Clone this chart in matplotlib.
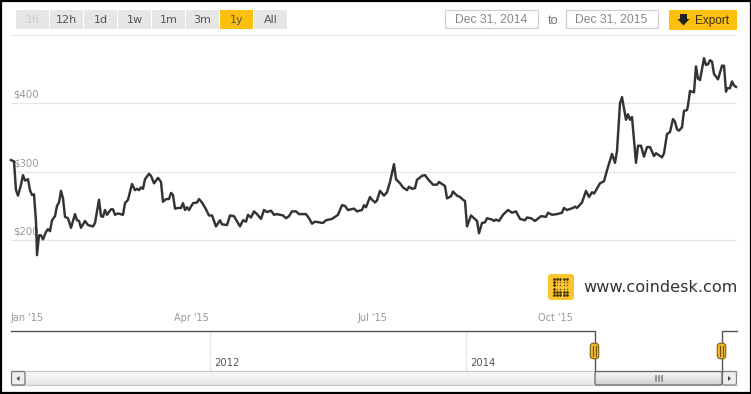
# plot.py - coindesk bitcoin price chart, 2015
import numpy as np
import matplotlib
matplotlib.use('Agg')
import matplotlib.pyplot as plt
from matplotlib.patches import Rectangle, FancyBboxPatch

# days since Dec 31 2014 and price in USD
days = [0, 1.5, 2.5, 3.5, 5, 6, 7, 8.5, 9.5, 10.5, 11.5, 12.5, 13, 14, 15, 16, 17.5, 18.5, 19.5, 20.5,
        22, 23, 24, 25, 26, 27, 28.5, 30, 32, 33, 34, 35, 37, 38.5, 41, 42, 44, 45, 46, 47,
        48, 50, 51, 52, 53.5, 56, 57, 58.5, 60.5, 62, 63, 64, 65, 66, 67, 69, 70, 71.5, 73.5, 75,
        76, 77.5, 79, 80, 81, 82, 83.5, 85, 86, 87, 88, 89, 91, 93, 94, 95.5, 97.5, 99, 100.5, 102.5,
        104.5, 105.5, 108, 109.5, 111.5, 114.5, 116, 117.5, 118.5, 120, 121.5, 123, 125, 126.5, 128, 130, 131.5, 133, 136, 137.5,
        139, 140.5, 142.5, 144, 147.5, 149, 150.5, 152, 156, 157.5, 160.5, 163.5, 165.5, 167, 168.5, 171.5, 173, 175.5, 176.5, 177.5,
        179.5, 180.5, 182, 183, 184.5, 186.5, 188, 189.5, 191.5, 192.5, 194.5, 196, 198, 199, 200.5, 202, 203, 205.5, 207, 208.5,
        211, 213, 214, 217, 218, 220, 221, 223, 224.5, 226, 227, 228, 230, 233, 234, 235.5, 237, 238, 240.5, 241.5,
        242.5, 244, 246, 248.5, 250.5, 252.5, 254.5, 257, 258, 260, 262, 265, 267.5, 268.5, 270.5, 273, 275.5, 276.5, 278, 281,
        282, 283, 285.5, 287.5, 289, 290.5, 291.5, 294.5, 296.5, 298, 300.5, 302, 303, 304.5, 305.5, 307.5, 308.5, 309.5, 310.5, 312.5,
        313.5, 315, 316.5, 318, 319.5, 321.5, 322.5, 325.5, 326.5, 328, 329.5, 331, 332, 333, 334, 335.5, 336.5, 338, 338.5, 339.5,
        341.5, 342.5, 343.5, 344.5, 346.5, 347.5, 348.5, 349.5, 350.5, 351.5, 353.5, 355.5, 356.5, 357.5, 358, 359.5, 360.5, 361.5, 362.5]
prices = [317, 315, 273, 265, 281, 295, 287, 289, 273, 266, 267, 227, 178, 207, 207, 201, 212, 216, 213, 229,
          235, 250, 255, 272, 261, 234, 232, 218, 238, 229, 228, 218, 228, 222, 220, 225, 259, 235, 234, 244,
          237, 245, 245, 237, 239, 237, 254, 259, 282, 273, 275, 273, 277, 275, 289, 297, 294, 283, 291, 285,
          256, 260, 260, 269, 266, 246, 247, 247, 254, 244, 248, 244, 254, 255, 260, 255, 245, 236, 236, 220,
          229, 223, 222, 236, 235, 220, 229, 227, 237, 233, 242, 238, 231, 244, 241, 243, 237, 238, 236, 232,
          235, 242, 242, 238, 238, 232, 224, 227, 225, 229, 231, 237, 251, 250, 244, 246, 242, 244, 251, 248,
          263, 259, 255, 258, 272, 265, 270, 285, 311, 289, 283, 277, 273, 278, 275, 276, 288, 294, 295, 289,
          281, 281, 285, 279, 261, 264, 271, 265, 263, 259, 257, 220, 236, 228, 210, 225, 226, 232, 230, 228,
          230, 228, 237, 244, 240, 242, 231, 229, 233, 232, 228, 235, 234, 240, 237, 238, 240, 247, 244, 247,
          249, 247, 255, 272, 263, 270, 268, 283, 286, 302, 326, 313, 330, 400, 409, 376, 384, 376, 380, 313,
          338, 338, 322, 336, 336, 323, 327, 321, 327, 355, 358, 377, 373, 362, 360, 365, 389, 390, 397, 418,
          416, 454, 436, 434, 466, 456, 457, 463, 461, 443, 435, 455, 455, 417, 422, 422, 432, 426, 424]

price_ticks = [200, 300, 400]
month_pos = [8, 90, 180.5, 272]
month_labels = ["Jan '15", "Apr '15", "Jul '15", "Oct '15"]
range_buttons = ['1h', '12h', '1d', '1w', '1m', '3m', '1y', 'All']
date_from = 'Dec 31, 2014'
date_to = 'Dec 31, 2015'
nav_years = [(210, '2012'), (466, '2014')]

W, H = 751, 394
GOLD = '#fcbf0c'
plt.rcParams['font.family'] = ['DejaVu Sans']

fig = plt.figure(figsize=(W / 100, H / 100), dpi=100, facecolor='white')

# page furniture in pixel coordinates
ui = fig.add_axes([0, 0, 1, 1])
ui.set_xlim(0, W); ui.set_ylim(H, 0); ui.axis('off')

for i, lab in enumerate(range_buttons):
    x0 = 16 + i * 34
    active = lab == '1y'
    ui.add_patch(Rectangle((x0, 10), 33, 19, fc=GOLD if active else '#e6e6e6', ec='none'))
    col = '#cccccc' if lab == '1h' else '#555555'
    ui.text(x0 + 16.5, 20, lab, ha='center', va='center', fontsize=8, color=col)

for x0, txt in [(445, date_from), (565.5, date_to)]:
    ui.add_patch(Rectangle((x0, 10), 92.5, 18, fc='white', ec='#d0d0d0', lw=0.9))
    ui.text(x0 + 46, 19.5, txt, ha='center', va='center', fontsize=8.7, color='#888888',
            family='Liberation Sans')
ui.text(553, 20.5, 'to', ha='center', va='center', fontsize=9, color='#777777', family='Liberation Sans')

ui.add_patch(Rectangle((669, 10), 68, 20, fc=GOLD, ec='none'))
ui.fill([680, 680, 677.5, 683.5, 689.5, 687, 687], [14, 19, 19, 25.5, 19, 19, 14], color='#222222', lw=0)
ui.text(695, 20.5, 'Export', ha='left', va='center', fontsize=8.5, color='#3a2a10', family='Liberation Sans')

# logo
ui.add_patch(FancyBboxPatch((550, 276), 22, 22, boxstyle='round,pad=2,rounding_size=3', fc='#fcc42f', ec='none'))
gx, gy = np.meshgrid(np.arange(554, 570, 3.2), np.arange(279, 296, 3.2))
big = (gx < 557) | (gy > 291) | (gy < 280)
ui.scatter(gx[big], gy[big], s=3.5, color='#33260a', lw=0)
ui.scatter(gx[~big], gy[~big], s=1.2, color='#6b5316', lw=0)
ui.text(583, 287.5, 'www.coindesk.com', ha='left', va='center', fontsize=11.6, color='#333333', fontweight='medium')

# navigator
for x0, lab in nav_years:
    ui.plot([x0, x0], [331, 371], color='#e6e6e6', lw=0.9)
    ui.text(x0 + 4, 363.5, lab, ha='left', va='center', fontsize=7.2, color='#555555')

grad = np.linspace(0.98, 0.90, 20).reshape(-1, 1)
ui.imshow(grad, extent=(25, 595, 385, 371), aspect='auto', cmap='gray', vmin=0, vmax=1, zorder=1)
grad2 = np.linspace(0.97, 0.82, 20).reshape(-1, 1)
ui.imshow(grad2, extent=(595, 722, 385, 371), aspect='auto', cmap='gray', vmin=0, vmax=1, zorder=1)
ui.set_xlim(0, W); ui.set_ylim(H, 0)
ui.plot([11, 737], [371, 371], color='#c8c8c8', lw=0.9, zorder=2)
ui.plot([11, 737], [385, 385], color='#c8c8c8', lw=0.9, zorder=2)
ui.add_patch(FancyBboxPatch((11.5, 371.5), 13.5, 13.5, boxstyle='round,pad=0,rounding_size=2', fc='#eeeeee', ec='#777777', lw=0.9, zorder=3))
ui.add_patch(FancyBboxPatch((722.5, 371.5), 14, 13.5, boxstyle='round,pad=0,rounding_size=2', fc='#eeeeee', ec='#888888', lw=0.9, zorder=3))
ui.add_patch(FancyBboxPatch((595, 371.5), 127, 13.5, boxstyle='round,pad=0,rounding_size=2', fc='none', ec='#666666', lw=0.9, zorder=3))
ui.fill([19.5, 16.5, 19.5], [376, 378.5, 381], color='#444444', lw=0, zorder=4)
ui.fill([728, 731, 728], [376, 378.5, 381], color='#444444', lw=0, zorder=4)
for dx in (-3, 0, 3):
    ui.plot([658.5 + dx] * 2, [375.5, 381], color='#888888', lw=1.2, zorder=4)

ui.plot([11, 595, 595], [331, 331, 371], color='#555555', lw=1.0, zorder=2)
ui.plot([737, 722, 722], [331, 331, 371], color='#555555', lw=1.0, zorder=2)
for x0 in (594.5, 721.5):
    ui.add_patch(FancyBboxPatch((x0 - 3.2, 344.2), 6.4, 13.5, boxstyle='round,pad=1,rounding_size=3', fc='#eeb92a', ec='#8a6d1d', lw=0.9, zorder=4))
    for dx in (-1.5, 1.5):
        ui.plot([x0 + dx] * 2, [346, 356], color='#6f5610', lw=0.8, zorder=5)

# border of the screenshot
ui.add_patch(Rectangle((0.5, 0.5), W - 1, H - 1.5, fc='none', ec='black', lw=1.6, zorder=6))

# main chart, 2 px per day, $100 = 68.4 px
ax = fig.add_axes([11 / W, 1 - 308.5 / H, 726 / W, (308.5 - 34.9) / H])
ax.patch.set_alpha(0)
ax.set_xlim(0, 363); ax.set_ylim(100, 500)
for s in ax.spines.values():
    s.set_visible(False)
ax.set_yticks(price_ticks + [500])
ax.set_yticklabels([])
ax.grid(True, axis='y', color='#e6e6e6', lw=1.0)
ax.set_axisbelow(True)
ax.set_xticks(month_pos)
ax.set_xticklabels(month_labels, fontsize=7, color='#999999')
ax.tick_params(length=0)
ax.tick_params(axis='x', pad=3)
for v in price_ticks:
    ax.annotate(f'${v}', (0, v), xytext=(1.5, 2.5), textcoords='offset points', fontsize=7.3,
                color='#999999', va='bottom', ha='left', zorder=2, annotation_clip=False)
ax.plot(days, prices, color='#333333', lw=1.75, zorder=3, clip_on=False, solid_joinstyle='round')

fig.savefig('out.png', dpi=100)
